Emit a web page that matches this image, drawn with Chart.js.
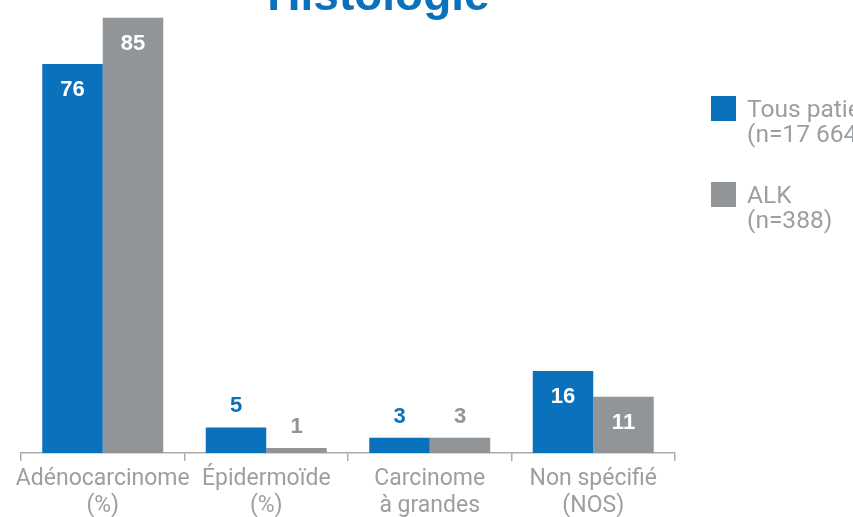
<!DOCTYPE html>
<html>
<head>
<meta charset="utf-8">
<script src="https://cdn.jsdelivr.net/npm/chart.js@4.4.1/dist/chart.umd.min.js"></script>
<style>
  html, body { margin: 0; padding: 0; background: #ffffff; overflow: hidden; width: 853px; height: 517px; }
  #wrap { position: absolute; left: 0; top: 0; width: 853px; height: 620px; }
</style>
</head>
<body>
<div id="wrap"><canvas id="c"></canvas></div>
<script>
const titleText = "Histologie";
const categories = [
  ["Adénocarcinome", "(%)"],
  ["Épidermoïde", "(%)"],
  ["Carcinome", "à grandes", "cellules (%)"],
  ["Non spécifié", "(NOS)"]
];
const seriesNames = [["Tous patients", "(n=17 664)"], ["ALK", "(n=388)"]];
const allPatients = [76, 5, 3, 16];
const alkPatients = [85, 1, 3, 11];

const BLUE = "#0a72bc";
const GRAY = "#919598";
const TEXT_GRAY = "#9c9fa2";

const labelPlugin = {
  id: "valueLabels",
  afterDatasetsDraw(chart) {
    const ctx = chart.ctx;
    ctx.save();
    ctx.font = "bold 22px 'Liberation Sans', Arial, sans-serif";
    ctx.textAlign = "center";
    ctx.textBaseline = "middle";
    chart.data.datasets.forEach((ds, di) => {
      const meta = chart.getDatasetMeta(di);
      meta.data.forEach((el, i) => {
        const v = ds.data[i];
        if (v >= 10) {
          ctx.fillStyle = "#ffffff";
          ctx.fillText(String(v), el.x, el.y + 26);
        } else {
          ctx.fillStyle = ds.backgroundColor;
          ctx.fillText(String(v), el.x, el.y - 21);
        }
      });
    });
    ctx.restore();
  }
};

const decorPlugin = {
  id: "decor",
  afterDraw(chart) {
    const ctx = chart.ctx;
    const area = chart.chartArea;
    ctx.save();
    // title
    ctx.font = "bold 46px 'Liberation Sans', Arial, sans-serif";
    ctx.fillStyle = BLUE;
    ctx.textAlign = "center";
    ctx.textBaseline = "alphabetic";
    ctx.fillText(titleText, area.left + 357.5, 10);
    // legend
    const lx = area.right + 36;
    const tops = [96, 182];
    chart.data.datasets.forEach((ds, di) => {
      const y0 = tops[di];
      ctx.fillStyle = ds.backgroundColor;
      ctx.fillRect(lx, y0, 25, 25);
      ctx.fillStyle = TEXT_GRAY;
      ctx.font = "400 24.5px Roboto, sans-serif";
      ctx.textAlign = "left";
      ctx.textBaseline = "alphabetic";
      seriesNames[di].forEach((line, li) => {
        ctx.fillText(line, lx + 36, y0 + 20.5 + li * 25.5);
      });
    });
    ctx.restore();
  }
};

new Chart(document.getElementById("c"), {
  type: "bar",
  data: {
    labels: categories,
    datasets: [
      { label: seriesNames[0].join(" "), data: allPatients, backgroundColor: BLUE, borderWidth: 0 },
      { label: seriesNames[1].join(" "), data: alkPatients, backgroundColor: GRAY, borderWidth: 0 }
    ]
  },
  options: {
    responsive: true,
    maintainAspectRatio: false,
    animation: false,
    devicePixelRatio: 1,
    layout: { padding: { left: 21, right: 178, top: 2.44, bottom: 0 } },
    datasets: { bar: { categoryPercentage: 0.74, barPercentage: 1.0 } },
    plugins: { legend: { display: false }, title: { display: false }, tooltip: { enabled: false } },
    scales: {
      x: {
        grid: { drawOnChartArea: false, drawTicks: true, tickLength: 8, color: "#a9abad", lineWidth: 1.5, offset: true },
        border: { display: true, color: "#a9abad", width: 1.5 },
        ticks: {
          color: TEXT_GRAY,
          padding: 4,
          maxRotation: 0,
          autoSkip: false,
          font: { family: "Roboto", size: 23, weight: 400, lineHeight: 1.2 }
        },
        afterFit(scale) { scale.height = 167; }
      },
      y: { display: false, min: 0, max: 88 }
    }
  },
  plugins: [labelPlugin, decorPlugin]
});
</script>
</body>
</html>
